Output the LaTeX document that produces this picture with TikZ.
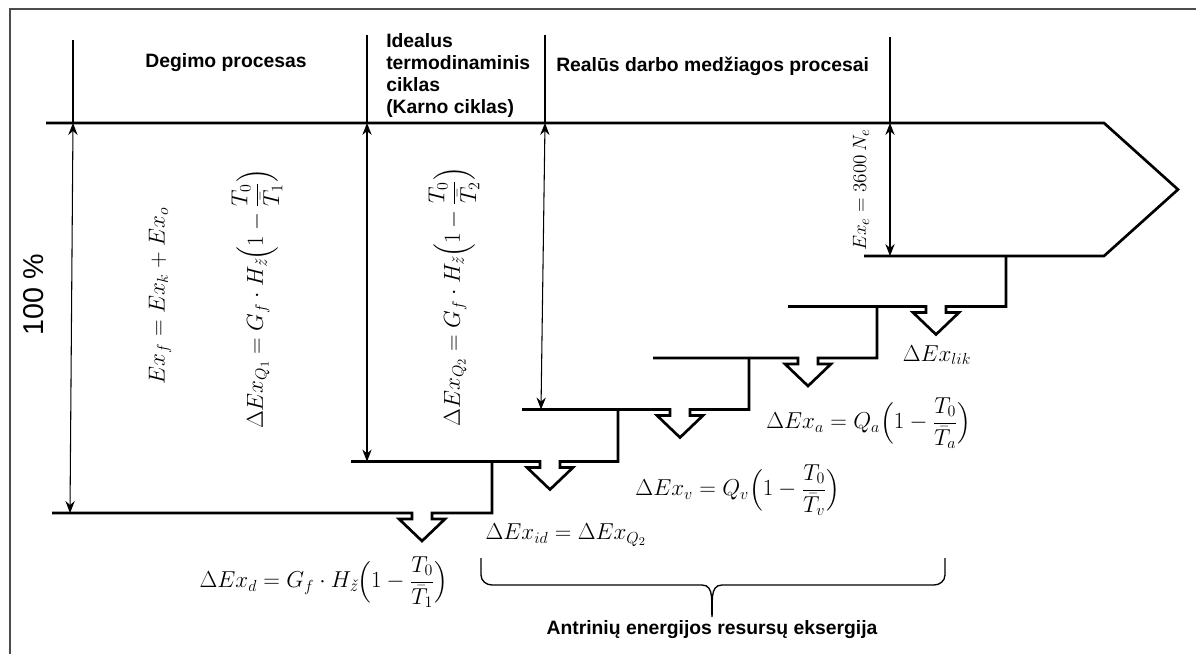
\documentclass[tikz,border=0pt]{standalone}
\usepackage{amsmath}
\usepackage{fontspec}
\setsansfont{Liberation Sans}
\usetikzlibrary{arrows.meta,calc}

\begin{document}
\begin{tikzpicture}[
    x=0.75pt, y=-0.75pt,
    flow/.style={line width=2pt, line join=miter},
    guide/.style={line width=0.8pt},
    dim/.style={line width=0.8pt, arrows={Stealth[length=9pt,width=7pt,inset=3pt]-Stealth[length=9pt,width=7pt,inset=3pt]}},
    head/.style={font=\sffamily\bfseries\fontsize{14.5}{16.3}\selectfont, inner sep=0pt},
    eq/.style={font=\fontsize{18.5}{22}\selectfont, inner sep=0pt},
    eqsmall/.style={font=\fontsize{15.5}{18}\selectfont, inner sep=0pt},
    frame/.style={draw=black!70, line width=1.1pt},
    bracket/.style={line width=1pt},
]
\useasboundingbox (0,0) rectangle (1196,654);

% --- frame ---
\draw[frame] (10,654) -- (10,9) -- (1196,9);

% --- measuring points ---
\coordinate (sep-d) at (73,40);
\coordinate (top-d) at (73,123);
\coordinate (bot-d) at (70,513);
\coordinate (sep-q1) at (367,35);
\coordinate (top-q1) at (367,123);
\coordinate (bot-q1) at (367,461.5);
\coordinate (sep-q2) at (545,35);
\coordinate (top-q2) at (545,123);
\coordinate (bot-q2) at (541,409.5);
\coordinate (sep-e) at (890,37);
\coordinate (top-e) at (890,123);
\coordinate (bot-e) at (890,256);

% --- exergy flow: stairs with loss arrows ---
\foreach \lev/\xs/\cx/\xr/\up in {513/52/422/492/461.5, 461.5/351/550/618/409.5, 409.5/522/680/749/358, 358/653/808/877/306.5, 306.5/788/936/1006/256}
  \draw[flow] (\xs,\lev) -- ({\cx-10},\lev) -- ++(0,6) -- ++(-13,0) -- (\cx,{\lev+28})
    -- ({\cx+23},{\lev+6}) -- ++(-13,0) -- ({\cx+10},\lev) -- (\xr,\lev) -- (\xr,\up);
\draw[flow] (864,256) -- (1104,256) -- (1178,189.5) -- (1104,123) -- (46,123);

% --- section lines and dimensions ---
\draw[guide] (sep-d) -- (top-d);
\draw[guide] (sep-q1) -- (top-q1);
\draw[guide] (sep-q2) -- (top-q2);
\draw[guide] (sep-e) -- (top-e);
\draw[dim] (top-d) -- (bot-d);
\draw[dim] (top-q1) -- (bot-q1);
\draw[dim] (top-q2) -- (bot-q2);
\draw[dim] (top-e) -- (bot-e);

% --- headings ---
\node[head] (hd-comb) at (226,63) {Degimo procesas};
\node[head, align=left, anchor=west] (hd-ideal) at (386,75.5) {Idealus\\termodinaminis\\ciklas\\(Karno ciklas)};
\node[head, anchor=west] (hd-real) at (556,66) {Realūs darbo medžiagos procesai};
\node[font=\sffamily\fontsize{21.5}{24}\selectfont, rotate=90, inner sep=0pt] (pct) at (34,295) {100 \%};

% --- exergy terms ---
\node[eq, rotate=90] (ex-f) at (160,296) {$Ex_f = Ex_k + Ex_o$};
\node[eq, rotate=90] (ex-q1) at (257,299) {$\Delta Ex_{Q_1} = G_f\cdot H_{\text{\itshape ž}}\Bigl(1-\dfrac{T_0}{\bar{T}_1}\Bigr)$};
\node[eq, rotate=90] (ex-q2) at (454,296.5) {$\Delta Ex_{Q_2} = G_f\cdot H_{\text{\itshape ž}}\Bigl(1-\dfrac{T_0}{\bar{T}_2}\Bigr)$};
\node[eqsmall, rotate=90] (ex-e) at (861,190) {$Ex_e = 3600\,N_e$};
\node[eq] (ex-lik) at (937,355) {$\Delta Ex_{lik}$};
\node[eq] (ex-a) at (869,423) {$\Delta Ex_a = Q_a\Bigl(1-\dfrac{T_0}{\bar{T}_a}\Bigr)$};
\node[eq] (ex-v) at (738,490) {$\Delta Ex_v = Q_v\Bigl(1-\dfrac{T_0}{\bar{T}_v}\Bigr)$};
\node[eq] (ex-id) at (566,535) {$\Delta Ex_{id} = \Delta Ex_{Q_2}$};
\node[eq] (ex-d) at (324,582) {$\Delta Ex_d = G_f\cdot H_{\text{\itshape ž}}\Bigl(1-\dfrac{T_0}{\bar{T}_1}\Bigr)$};

% --- secondary resources ---
\coordinate (br-l) at (481,558);
\coordinate (br-r) at (945,558);
\draw[bracket] (br-l) -- (481,575) to[out=-90,in=180] (492,585) -- (702,585)
  to[out=0,in=95] (712,617) to[out=85,in=180] (722,585) -- (934,585) to[out=0,in=-90] (945,575) -- (br-r);
\node[head] (sec) at (712,630) {Antrinių energijos resursų eksergija};
\end{tikzpicture}
\end{document}
